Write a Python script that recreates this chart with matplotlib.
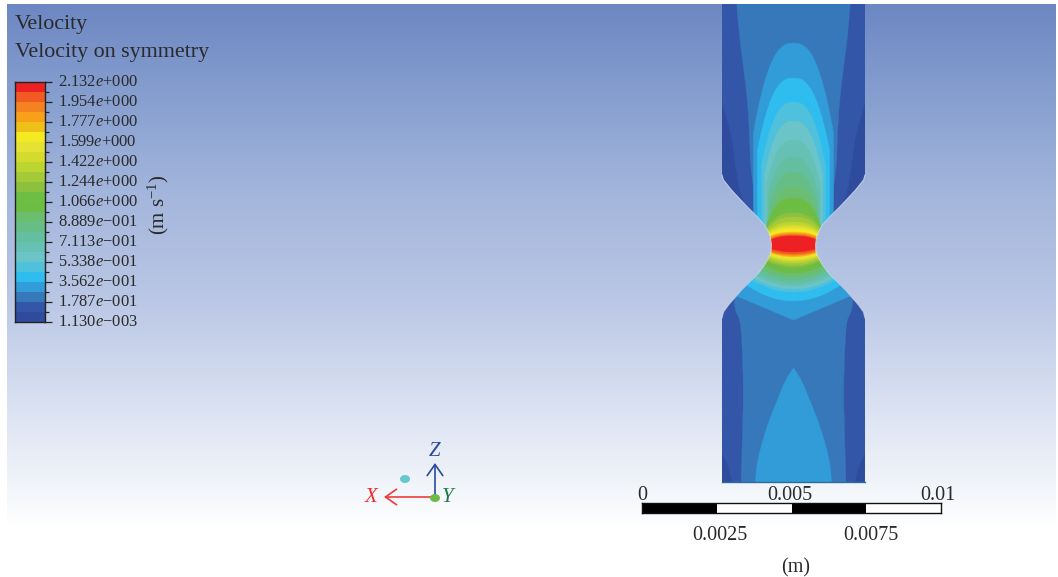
import numpy as np
import matplotlib
matplotlib.use("Agg")
import matplotlib.pyplot as plt
from matplotlib.colors import ListedColormap, BoundaryNorm, LinearSegmentedColormap
from matplotlib.patches import Polygon, Ellipse, FancyArrowPatch
from matplotlib.transforms import ScaledTranslation

plt.rcParams['font.family'] = ['Liberation Serif', 'DejaVu Serif']
plt.rcParams['mathtext.fontset'] = 'custom'
plt.rcParams['mathtext.rm'] = 'Liberation Serif'
plt.rcParams['mathtext.it'] = 'Liberation Serif:italic'

W, H = 1058, 577
TEXT = '#2a2a2a'

# legend (bottom to top)
LEVEL_COLORS = ['#2E4B9E', '#3456A8', '#3778BB', '#319CD7', '#2FBCEF', '#4FC1DD',
                '#6BC5C8', '#66C1B4', '#63BF9F', '#66BE86', '#6BBE70', '#6DBD45',
                '#6EBD45', '#8BC13F', '#A4CA39', '#BCD531', '#D5DB2E', '#E6E135',
                '#F5E922', '#EFC118', '#F9A01B', '#F58220', '#F15A22', '#ED2024']
TICK_LABELS = ['1.130$\\mathit{e}$\u2212003', '1.787$\\mathit{e}$\u2212001', '3.562$\\mathit{e}$\u2212001',
               '5.338$\\mathit{e}$\u2212001', '7.113$\\mathit{e}$\u2212001', '8.889$\\mathit{e}$\u2212001',
               '1.066$\\mathit{e}$+000', '1.244$\\mathit{e}$+000', '1.422$\\mathit{e}$+000',
               '1.599$\\mathit{e}$+000', '1.777$\\mathit{e}$+000', '1.954$\\mathit{e}$+000',
               '2.132$\\mathit{e}$+000']
TICK_VALUES = [0.00113, 0.1787, 0.3562, 0.5338, 0.7113, 0.8889, 1.066, 1.244, 1.422, 1.599, 1.777, 1.954, 2.132]

# background gradient
BG_Y = [4, 100, 200, 300, 400, 480, 530]
BG_C = ['#6D87C3', '#88A0D0', '#A5B7DD', '#BAC7E5', '#D8E0F1', '#EFF3F9', '#FFFFFF']

# geometry: half width of the channel against height on the picture
CENTER = 793.5
WALL_Y = [4, 175, 180, 190, 205, 217, 225, 232, 238, 245, 252, 258, 265, 273, 290, 305, 312, 318, 482]
WALL_HW = [71.5, 71.5, 70, 62, 48, 36, 29, 25, 23, 22, 22.5, 25, 29, 35, 52, 65, 70, 71.5, 71.5]

# outer contours
L1_Y = [-60, -10, 97, 133, 173, 200, 217, 260, 285, 300, 450, 463, 482, 495, 540]
L1_HW = [90, 90, 74, 62, 57, 52, 38, 38, 70, 75, 74, 66, 61, 60, 60]
L2_Y = [-60, -10, 37, 67, 100, 133, 167, 200, 217, 240, 285, 297, 312, 320, 363, 397, 430, 482, 495, 540]
L2_HW = [58, 58, 54, 50, 46, 44, 43, 38, 36, 30, 50, 60, 58, 52.7, 50.7, 50, 51, 52.3, 52.5, 52.5]
LOWER_DOME_Y = [368, 380, 397, 430, 463, 482, 495, 540]
LOWER_DOME_HW = [0, 8, 15, 28, 36.7, 38, 38.5, 38.5]

# nested contours, index in LEVEL_COLORS from 3 upward
BAND_TOP = [43, 78, 102, 121, 140, 157, 172, 187, 198, 206, 213, 217, 222, 225, 227, 229, 232, 233, 234, 235, 236]
BAND_BELLY = [133, 150, 165, 175, 185, 195, 205, 215, 222, 226, 228, 230, 232, 234, 235, 236, 238, 239, 240, 241, 242]
BAND_WIDTH = [40, 36, 32, 29, 27, 25, 24, 24, 26, 27, 27, 27, 27, 27, 27, 27, 27, 27, 27, 27, 27]
BAND_BOTTOM = [320, 301, 292, 289, 286, 283, 280, 277, 273, 270, 267, 265, 263, 261, 260, 258, 257, 256, 255, 254, 252]
BAND_DEPTH = [24, 16, 12, 11, 11, 10, 10, 9, 8, 8, 7, 6, 6, 5, 5, 5, 5, 4, 4, 4, 4]
BAND_LOWW = [57, 47, 42, 40, 38, 36, 34, 32, 30, 29, 28, 27, 26, 25, 25, 25, 25, 25, 25, 25, 25]
BAND_LOWEXP = [1.0] + [0.5] * 20

SCALE_VALUES = [0, 0.0025, 0.005, 0.0075, 0.01]
SCALE_TOP = ['0', '0.005', '0.01']
SCALE_BOTTOM = ['0.0025', '0.0075']


def chaikin(pts, n=2):
    p = np.asarray(pts, float)
    for _ in range(n):
        q = np.roll(p, -1, axis=0)
        p = np.column_stack([0.75 * p + 0.25 * q, 0.25 * p + 0.75 * q]).reshape(-1, 2)
    return p


def mirrored(y, hw):
    y, hw = np.asarray(y, float), np.asarray(hw, float)
    return np.concatenate([np.column_stack([CENTER - hw, y]),
                           np.column_stack([CENTER + hw, y])[::-1]])


def px_axes(x0, y0, x1, y1):
    return fig.add_axes([x0 / W, 1 - y1 / H, (x1 - x0) / W, (y1 - y0) / H])


fig = plt.figure(figsize=(W / 100, H / 100), dpi=100, facecolor='white')
ax = fig.add_axes([0, 0, 1, 1])
ax.set_xlim(0, W)
ax.set_ylim(H, 0)
ax.axis('off')

# background
stops = [(y - BG_Y[0]) / (BG_Y[-1] - BG_Y[0]) for y in BG_Y]
cmap_bg = LinearSegmentedColormap.from_list('bg', list(zip(stops, BG_C)))
ax.imshow(np.linspace(0, 1, 526)[:, None], cmap=cmap_bg, aspect='auto',
          extent=(7, 1056, BG_Y[-1], BG_Y[0]), zorder=0)
ax.set_xlim(0, W)
ax.set_ylim(H, 0)

# channel
wall = Polygon(mirrored(WALL_Y, WALL_HW), closed=True, fc=LEVEL_COLORS[0], ec='none', zorder=1)
ax.add_patch(wall)


def layer(y, hw, color, z, smooth=3):
    poly = Polygon(chaikin(mirrored(y, hw), smooth), closed=True, fc=color, ec=color, lw=0.3, zorder=z)
    ax.add_patch(poly)
    poly.set_clip_path(wall)


layer(L1_Y, L1_HW, LEVEL_COLORS[1], 2)
layer(L2_Y, L2_HW, LEVEL_COLORS[2], 3)
layer(LOWER_DOME_Y, LOWER_DOME_HW, LEVEL_COLORS[3], 3.5)

for i in range(len(BAND_TOP)):
    ys = np.linspace(BAND_TOP[i], BAND_BOTTOM[i], 500)
    up = BAND_WIDTH[i] * np.clip((ys - BAND_TOP[i]) / (BAND_BELLY[i] - BAND_TOP[i]), 0, 1) ** 0.39
    up = np.where(ys < 245, up, 120)
    low = BAND_LOWW[i] * (np.clip(BAND_BOTTOM[i] - ys, 0, None) / BAND_DEPTH[i]) ** BAND_LOWEXP[i]
    layer(ys, np.minimum(up, low), LEVEL_COLORS[i + 3], 4 + i, smooth=0)

# pale rim along the chamfers only
ax.plot(CENTER - np.array(WALL_HW[1:18]), WALL_Y[1:18], color='#DDE4F3', lw=0.8, alpha=0.7, zorder=29)
ax.plot(CENTER + np.array(WALL_HW[1:18]), WALL_Y[1:18], color='#DDE4F3', lw=0.8, alpha=0.7, zorder=29)
ax.plot([CENTER - 71.5, CENTER + 71.5], [482, 482], color='#2C6C9E', lw=1.0, zorder=30)

# colour legend
cax = px_axes(15, 82, 45, 322)
bounds = np.linspace(TICK_VALUES[0], TICK_VALUES[-1], len(LEVEL_COLORS) + 1)
cmap = ListedColormap(LEVEL_COLORS)
cax.pcolormesh([0, 1], bounds, np.array(bounds[:-1] + 1e-6)[:, None], cmap=cmap,
               norm=BoundaryNorm(bounds, cmap.N))
cax.set_xlim(0, 1)
cax.set_ylim(bounds[0], bounds[-1])
cax.set_xticks([])
cax.yaxis.tick_right()
cax.set_yticks(bounds[::2])
cax.set_yticklabels(TICK_LABELS, fontsize=11.9, color=TEXT)
cax.set_yticks(bounds[1::2], minor=True)
cax.tick_params(axis='y', which='major', length=5, width=0.9, color='#222222', pad=4)
cax.tick_params(axis='y', which='minor', length=2.6, width=0.9, color='#222222')
shift = ScaledTranslation(0, 1.5 / 100, fig.dpi_scale_trans)
for lab in cax.get_yticklabels():
    lab.set_transform(lab.get_transform() + shift)
for s in cax.spines.values():
    s.set_linewidth(1.0)
    s.set_color('#222222')

ax.text(15, 25, 'Velocity', fontsize=15.8, color=TEXT, ha='left', va='center')
ax.text(15, 53, 'Velocity on symmetry', fontsize=15.8, color=TEXT, ha='left', va='center')
ax.text(158, 205, '(m s$^{\u22121}$)', fontsize=15, color=TEXT, rotation=90, ha='center', va='center')

# triad
ax.add_patch(FancyArrowPatch((435, 497), (384, 497), arrowstyle='->,head_length=0.5,head_width=0.35', mutation_scale=16, color='#EE3B3B', lw=1.2, shrinkA=0, shrinkB=0, zorder=5))
ax.add_patch(FancyArrowPatch((435, 497), (435, 463), arrowstyle='->,head_length=0.5,head_width=0.35', mutation_scale=16, color='#2B4A9E', lw=1.2, shrinkA=0, shrinkB=0, zorder=5))
ax.add_patch(Ellipse((435, 498), 10, 8, fc='#6DBB45', ec='none', zorder=6))
ax.add_patch(Ellipse((405, 479), 10, 8, fc='#67C7CC', ec='none', zorder=6))
ax.text(435, 452, 'Z', fontsize=15, style='italic', color='#2B4A9E', ha='center', va='center')
ax.text(371, 497, 'X', fontsize=15, style='italic', color='#EE2F2F', ha='center', va='center')
ax.text(448, 497, 'Y', fontsize=15, style='italic', color='#1E7A48', ha='center', va='center')

# scale bar
sax = px_axes(642, 503, 941, 513)
for a, b, c in zip(SCALE_VALUES[:-1], SCALE_VALUES[1:], ['black', 'white', 'black', 'white']):
    sax.barh(0, b - a, left=a, height=1, color=c, edgecolor='none')
sax.set_xlim(SCALE_VALUES[0], SCALE_VALUES[-1])
sax.set_ylim(-0.5, 0.5)
sax.set_xticks([])
sax.set_yticks([])
for s in sax.spines.values():
    s.set_linewidth(1.0)
    s.set_color('#111111')

ax.text(642, 496, SCALE_TOP[0], fontsize=14.5, color=TEXT, ha='center', va='center')
ax.text(790, 496, SCALE_TOP[1], fontsize=14.5, color=TEXT, ha='center', va='center')
ax.text(938, 496, SCALE_TOP[2], fontsize=14.5, color=TEXT, ha='center', va='center')
ax.text(720, 536, SCALE_BOTTOM[0], fontsize=14.5, color=TEXT, ha='center', va='center')
ax.text(871, 536, SCALE_BOTTOM[1], fontsize=14.5, color=TEXT, ha='center', va='center')
ax.text(796, 568, '(m)', fontsize=14.5, color=TEXT, ha='center', va='center')

fig.savefig('out.png', dpi=100, facecolor='white')
